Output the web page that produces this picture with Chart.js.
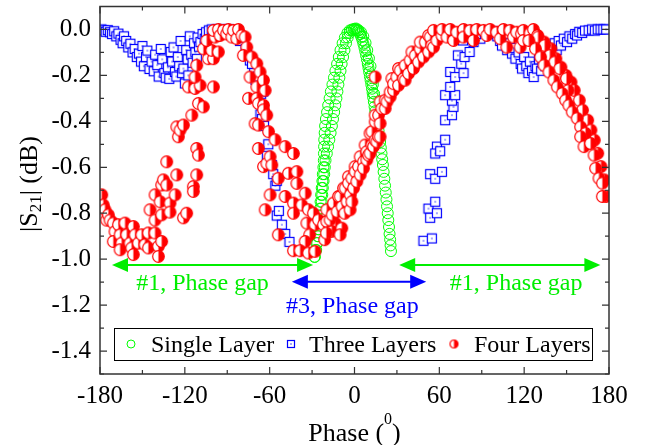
<!DOCTYPE html>
<html>
<head>
<meta charset="utf-8">
<script src="https://cdn.jsdelivr.net/npm/chart.js@4.4.0/dist/chart.umd.min.js"></script>
<style>
  html, body { margin: 0; padding: 0; background: #fff; }
  canvas { display: block; }
</style>
</head>
<body>
<canvas id="s21Chart" width="651" height="445"></canvas>
<script>
// axis ticks
const xTicks = [-180, -120, -60, 0, 60, 120, 180];
const yTicks = [0, -0.2, -0.4, -0.6, -0.8, -1.0, -1.2, -1.4];

const seriesNames = ['Single Layer', 'Three Layers', 'Four Layers'];

// Single Layer: [phase (deg), |S21| (dB)]
const singleLayer = [
  [-28.4, -0.99], [-28.0, -0.99], [-27.5, -0.96], [-27.1, -0.96], [-26.9, -0.93], [-26.3, -0.93],
  [-26.2, -0.90], [-25.6, -0.90], [-25.7, -0.87], [-25.1, -0.87], [-25.2, -0.84], [-24.6, -0.84],
  [-24.8, -0.81], [-24.0, -0.81], [-24.4, -0.78], [-23.6, -0.78], [-24.0, -0.75], [-23.2, -0.75],
  [-23.6, -0.72], [-22.8, -0.72], [-23.2, -0.69], [-22.4, -0.69], [-22.7, -0.66], [-21.9, -0.66],
  [-22.4, -0.63], [-21.4, -0.63], [-22.0, -0.60], [-21.0, -0.60], [-21.7, -0.57], [-20.5, -0.57],
  [-21.6, -0.54], [-19.6, -0.54], [-21.5, -0.51], [-18.7, -0.51], [-21.4, -0.48], [-17.8, -0.48],
  [-21.1, -0.45], [-16.9, -0.45], [-20.8, -0.42], [-16.0, -0.42], [-20.2, -0.39], [-15.2, -0.39],
  [-19.4, -0.36], [-14.4, -0.36], [-18.6, -0.33], [-13.6, -0.33], [-17.6, -0.30], [-12.8, -0.30],
  [-16.7, -0.27], [-12.1, -0.27], [-15.6, -0.24], [-11.4, -0.24], [-14.5, -0.21], [-10.7, -0.21],
  [-13.5, -0.18], [-9.9, -0.18], [-12.3, -0.15], [-9.1, -0.15], [-11.1, -0.12], [-8.1, -0.12],
  [-9.9, -0.09], [-7.1, -0.09], [-8.4, -0.06], [-6.0, -0.06], [-6.8, -0.035], [-4.8, -0.035],
  [-5.0, -0.015], [-3.4, -0.015], [-3.3, -0.004], [-1.9, -0.004], [-1.6, 0.0], [-0.4, 0.0],
  [0.0, 0.003], [0.8, 0.0], [1.2, 0.004], [1.6, -0.002], [2.4, -0.006], [2.8, -0.003], [3.2, -0.012],
  [4.0, -0.02], [4.6, -0.012], [4.8, -0.032], [5.6, -0.046], [6.2, -0.03], [6.3, -0.062], [7.0, -0.078],
  [7.6, -0.095], [7.8, -0.058], [8.2, -0.113], [8.8, -0.131], [9.0, -0.09], [9.4, -0.15], [9.9, -0.168],
  [10.2, -0.125], [10.4, -0.186], [10.9, -0.205], [11.3, -0.16], [11.4, -0.222], [11.9, -0.24],
  [12.2, -0.2], [12.4, -0.258], [12.8, -0.276], [13.0, -0.24], [13.2, -0.295], [13.7, -0.315],
  [13.9, -0.28], [14.2, -0.336], [14.7, -0.356], [15.2, -0.376], [15.8, -0.396], [16.4, -0.418],
  [17.0, -0.44], [17.5, -0.465], [18.1, -0.49], [18.6, -0.515], [19.1, -0.54], [19.6, -0.565],
  [20.1, -0.59], [20.6, -0.62], [21.1, -0.65], [21.6, -0.68], [22.1, -0.71], [22.6, -0.74],
  [23.0, -0.77], [23.5, -0.80], [23.9, -0.83], [24.4, -0.86], [24.8, -0.89], [25.2, -0.915],
  [25.5, -0.94], [25.8, -0.965]
];

// Three Layers
const threeLayers = [
  [-179.0, 0.0], [-177.5, -0.004], [-176.0, -0.01], [-174.5, -0.003], [-173.0, -0.012], [-171.5, -0.02],
  [-170.0, -0.008], [-168.5, -0.03], [-167.0, -0.018], [-165.5, -0.045], [-164.0, -0.06], [-163.0, -0.03],
  [-161.5, -0.05], [-160.0, -0.078], [-158.5, -0.062], [-157.0, -0.1], [-155.5, -0.085], [-154.0, -0.12],
  [-152.5, -0.105], [-151.0, -0.14], [-150.0, -0.072], [-149.0, -0.16], [-147.5, -0.12], [-146.5, -0.092],
  [-145.0, -0.172], [-143.5, -0.14], [-142.0, -0.182], [-141.0, -0.11], [-139.5, -0.155], [-138.5, -0.205],
  [-137.0, -0.085], [-136.0, -0.13], [-134.5, -0.19], [-133.5, -0.21], [-132.0, -0.165], [-131.0, -0.215],
  [-130.0, -0.098], [-129.0, -0.14], [-128.0, -0.078], [-127.0, -0.185], [-126.0, -0.205], [-125.0, -0.12],
  [-124.0, -0.16], [-123.0, -0.05], [-122.0, -0.19], [-121.0, -0.17], [-120.0, -0.235], [-119.0, -0.09],
  [-118.0, -0.13], [-117.5, -0.2], [-116.5, -0.03], [-115.5, -0.11], [-114.5, -0.145], [-113.5, -0.06],
  [-112.5, -0.1], [-111.5, -0.128], [-111.0, -0.035], [-110.0, -0.075], [-109.0, -0.055], [-107.5, -0.02],
  [-106.0, -0.04], [-105.0, -0.012], [-103.0, -0.004], [-101.0, 0.0], [-99.0, -0.008], [-97.0, 0.0],
  [-95.0, -0.004], [-93.0, 0.0], [-91.0, -0.008], [-89.0, 0.0], [-87.0, -0.004], [-85.0, -0.01],
  [-83.0, -0.02], [-81.0, -0.05], [-79.0, -0.035], [-77.0, -0.085], [-76.0, -0.11], [-74.0, -0.135],
  [-72.5, -0.15], [-71.0, -0.19], [-70.0, -0.22], [-68.5, -0.205], [-67.0, -0.25], [-66.0, -0.28],
  [-64.5, -0.27], [-66.5, -0.37], [-65.5, -0.39], [-64.0, -0.42], [-62.0, -0.55], [-61.0, -0.5],
  [-58.5, -0.59], [-57.5, -0.63], [-56.0, -0.68], [-55.0, -0.66], [-55.0, -0.81], [-53.5, -0.79],
  [-51.4, -0.85], [-49.0, -0.89], [-46.0, -0.925],
  [48.8, -0.92], [54.7, -0.91], [52.3, -0.78], [53.5, -0.82], [57.1, -0.75], [58.3, -0.80],
  [53.5, -0.63], [57.1, -0.65], [61.8, -0.62], [58.3, -0.51], [57.1, -0.54], [60.6, -0.53],
  [64.1, -0.48], [64.1, -0.395], [68.9, -0.373], [70.0, -0.337], [68.9, -0.31], [64.1, -0.286],
  [71.2, -0.286], [67.7, -0.25], [67.7, -0.185], [71.2, -0.207], [77.1, -0.19], [75.5, -0.149],
  [73.1, -0.113], [77.8, -0.12], [81.4, -0.098], [76.7, -0.048], [84.2, -0.055], [89.0, -0.04],
  [86.0, -0.02], [92.0, -0.01], [95.0, -0.02], [98.0, -0.008], [101.0, -0.03], [103.0, -0.05],
  [104.3, -0.07], [106.0, -0.04], [108.0, -0.09], [110.0, -0.06], [111.4, -0.105], [113.0, -0.08],
  [113.8, -0.127], [116.0, -0.1], [117.5, -0.15], [118.5, -0.17], [120.0, -0.12], [121.5, -0.16],
  [123.0, -0.19], [124.0, -0.14], [125.5, -0.18], [126.7, -0.207], [128.0, -0.16], [129.1, -0.17],
  [130.5, -0.13], [132.0, -0.18], [133.0, -0.145], [134.5, -0.1], [135.0, -0.156], [137.0, -0.12],
  [138.5, -0.08], [140.0, -0.11], [141.5, -0.06], [143.0, -0.09], [144.4, -0.05], [146.0, -0.07],
  [148.0, -0.04], [150.3, -0.055], [152.0, -0.03], [154.0, -0.04], [156.0, -0.02], [157.4, -0.026],
  [159.0, -0.01], [161.0, -0.015], [163.0, -0.005], [165.6, -0.004], [168.0, 0.0], [170.0, -0.005],
  [172.0, 0.0], [174.0, 0.0], [176.0, 0.0], [178.0, 0.0]
];

// Four Layers
const fourLayers = [
  [-178.8, -0.72], [-177.7, -0.764], [-176.5, -0.785], [-175.3, -0.83], [-174.1, -0.807], [-172.9, -0.83],
  [-170.6, -0.843], [-169.4, -0.88], [-170.6, -0.923], [-167.0, -0.85], [-165.8, -0.894], [-164.7, -0.93],
  [-165.8, -0.959], [-162.3, -0.843], [-161.1, -0.894], [-158.8, -0.93], [-157.6, -0.951], [-156.4, -0.858],
  [-156.4, -0.98], [-155.2, -0.894], [-152.9, -0.93], [-150.5, -0.894], [-148.2, -0.937], [-145.8, -0.886],
  [-145.8, -0.951], [-144.6, -0.785], [-141.1, -0.886], [-141.1, -0.83], [-141.1, -0.72], [-138.7, -0.944],
  [-138.7, -0.988], [-137.5, -0.75], [-136.4, -0.923], [-136.4, -0.807], [-136.4, -0.677], [-135.2, -0.655],
  [-132.8, -0.677], [-132.8, -0.576], [-130.5, -0.756], [-130.5, -0.795], [-126.9, -0.72], [-125.7, -0.633],
  [-124.6, -0.467], [-125.7, -0.424], [-123.4, -0.438], [-121.0, -0.416], [-121.0, -0.82], [-118.7, -0.80],
  [-115.1, -0.373], [-114.0, -0.684], [-114.0, -0.705], [-111.6, -0.633], [-111.6, -0.518], [-110.4, -0.547],
  [-110.4, -0.322], [-106.9, -0.337], [-117.5, -0.25], [-112.8, -0.257], [-109.2, -0.243], [-99.8, -0.25],
  [-112.8, -0.207], [-111.6, -0.156], [-103.4, -0.127], [-99.8, -0.127], [-106.9, -0.084], [-101.0, -0.091],
  [-96.3, -0.098], [-104.5, -0.048], [-98.6, -0.033], [-99.8, -0.004], [-96.3, 0.0], [-95.1, -0.026],
  [-92.7, -0.004], [-90.4, -0.019], [-89.2, 0.0], [-86.8, -0.033], [-85.7, -0.004], [-83.3, -0.04],
  [-82.1, 0.0], [-79.7, -0.026],
  [-77.4, -0.033], [-76.2, -0.077], [-78.6, -0.113], [-72.6, -0.12], [-69.1, -0.149], [-73.9, -0.207],
  [-66.8, -0.185], [-69.1, -0.25], [-64.4, -0.221], [-63.2, -0.265], [-75.0, -0.30], [-69.1, -0.30],
  [-68.0, -0.322], [-64.4, -0.33], [-64.4, -0.35], [-62.1, -0.373], [-70.3, -0.41], [-68.0, -0.416],
  [-60.8, -0.445], [-68.0, -0.518], [-64.4, -0.597], [-62.0, -0.583], [-59.7, -0.554], [-56.2, -0.48],
  [-49.1, -0.51], [-43.2, -0.54], [-58.5, -0.59], [-53.9, -0.648], [-46.7, -0.626], [-40.8, -0.619],
  [-40.8, -0.67], [-34.9, -0.713], [-59.7, -0.72], [-63.2, -0.785], [-49.1, -0.727], [-43.2, -0.756],
  [-37.3, -0.764], [-43.2, -0.80], [-32.6, -0.785], [-29.1, -0.80], [-33.7, -0.843], [-27.9, -0.85],
  [-53.9, -0.894], [-31.7, -0.894], [-34.9, -0.923], [-43.2, -0.963], [-38.5, -0.963], [-32.6, -0.973],
  [-27.9, -0.966],
  [-25.5, -0.829], [-22.0, -0.85], [-19.6, -0.836], [-13.7, -0.843], [-16.1, -0.879], [-9.0, -0.865],
  [-21.1, -0.915], [-10.2, -0.894], [-19.9, -0.886], [-17.3, -0.829], [-19.6, -0.785], [-15.8, -0.807],
  [-14.9, -0.756], [-12.3, -0.793], [-11.4, -0.727], [-10.2, -0.727], [-8.8, -0.771], [-7.8, -0.691],
  [-6.9, -0.80], [-6.6, -0.691], [-5.3, -0.749], [-4.3, -0.641], [-4.3, -0.669], [-3.1, -0.785],
  [-3.0, -0.72], [-1.9, -0.648], [-1.9, -0.75], [-0.7, -0.691], [0.4, -0.597], [0.4, -0.619],
  [1.6, -0.662], [2.8, -0.597], [4.0, -0.633], [4.0, -0.554], [6.3, -0.576], [6.3, -0.604],
  [7.5, -0.503], [8.7, -0.532], [8.7, -0.568], [9.9, -0.547], [11.0, -0.539], [11.0, -0.452],
  [12.3, -0.503], [12.3, -0.445], [13.4, -0.51], [14.6, -0.482], [14.6, -0.402], [14.6, -0.373],
  [15.8, -0.489], [16.9, -0.467], [17.0, -0.373], [18.1, -0.409], [18.1, -0.467], [18.1, -0.315],
  [19.3, -0.344], [21.7, -0.308], [21.7, -0.344], [22.9, -0.315], [25.2, -0.294], [25.2, -0.272],
  [26.4, -0.214], [27.6, -0.265], [27.6, -0.236], [29.9, -0.207], [31.1, -0.243], [31.1, -0.17],
  [32.3, -0.178], [34.6, -0.214], [35.8, -0.156], [35.8, -0.221], [38.2, -0.192], [39.3, -0.134],
  [40.6, -0.098], [41.7, -0.17], [42.9, -0.113], [45.2, -0.142], [46.4, -0.084], [46.5, -0.055],
  [48.8, -0.12], [50.0, -0.055], [52.4, -0.098], [52.4, -0.026], [53.5, -0.033], [54.7, -0.069],
  [55.9, -0.004], [55.9, -0.077], [58.3, -0.048], [61.8, -0.026], [14.6, -0.207],
  [61.9, 0.0], [65.4, -0.033], [67.7, 0.0], [70.1, -0.048], [72.4, -0.012], [77.1, 0.0],
  [77.1, -0.033], [81.8, -0.004], [84.2, -0.048], [86.5, 0.0], [91.2, -0.004], [93.6, -0.026],
  [95.9, 0.0], [100.6, -0.012], [103.0, -0.04], [105.3, 0.0], [107.7, -0.077], [110.0, -0.004],
  [112.4, -0.033], [114.7, -0.012], [117.1, -0.077], [118.0, -0.019], [119.4, -0.004], [119.4, -0.048],
  [124.2, -0.016], [126.5, 0.0],
  [129.5, -0.026], [134.2, -0.055], [138.9, -0.084], [142.4, -0.127], [146.0, -0.164], [149.5, -0.2],
  [153.1, -0.229], [155.4, -0.265], [159.0, -0.308], [161.3, -0.351], [164.9, -0.395], [167.2, -0.438],
  [169.6, -0.482], [172.0, -0.539], [174.3, -0.597], [176.7, -0.655], [177.9, -0.727], [129.8, -0.033],
  [134.5, -0.069], [138.1, -0.113], [141.6, -0.142], [145.2, -0.17], [149.9, -0.214], [151.1, -0.265],
  [123.3, -0.048], [128.0, -0.084], [131.6, -0.12], [134.0, -0.156], [137.5, -0.185], [141.0, -0.221],
  [143.4, -0.25], [146.9, -0.279], [149.3, -0.308], [151.6, -0.33], [154.0, -0.359], [157.5, -0.387],
  [159.9, -0.424], [163.4, -0.452], [159.9, -0.467], [162.3, -0.51], [167.0, -0.496], [169.4, -0.547],
  [170.5, -0.604], [172.9, -0.648], [175.3, -0.669], [175.3, -0.727]
];

// phase-gap arrows (data units)
const gapArrows = [
  { from: -171.5, to: -29.3, at: -1.025, color: '#00ee00', text: '#1, Phase gap', textX: -107.5, textY: -1.133 },
  { from: -44.3, to: 50.7, at: -1.098, color: '#0000ff', text: '#3, Phase gap', textX: -1.5, textY: -1.233 },
  { from: 31.6, to: 173.9, at: -1.025, color: '#00ee00', text: '#1, Phase gap', textX: 114.3, textY: -1.133 }
];

const SERIF = '"Liberation Serif", "Times New Roman", serif';
const GREEN = '#00ff00';
const BLUE = '#0000ff';
const RED = '#ff0000';

// marker images
function squareMarker(side) {
  const s = Math.ceil(side + 3);
  const c = document.createElement('canvas');
  c.width = s; c.height = s;
  const g = c.getContext('2d');
  const o = (s - side) / 2;
  g.fillStyle = '#fff';
  g.fillRect(o, o, side, side);
  g.strokeStyle = BLUE;
  g.lineWidth = 1.2;
  g.strokeRect(o, o, side, side);
  g.fillStyle = BLUE;
  g.fillRect(s / 2 - 0.6, s / 2 - 0.6, 1.2, 1.2);
  return c;
}

function halfCircleMarker(r) {
  const s = Math.ceil(r * 2 + 3);
  const c = document.createElement('canvas');
  c.width = s; c.height = s;
  const g = c.getContext('2d');
  const m = s / 2;
  g.beginPath(); g.arc(m, m, r, 0, Math.PI * 2); g.fillStyle = '#fff'; g.fill();
  g.beginPath(); g.arc(m, m, r, -Math.PI / 2, Math.PI / 2); g.closePath();
  g.fillStyle = RED; g.fill();
  g.beginPath(); g.arc(m, m, r, 0, Math.PI * 2);
  g.strokeStyle = RED; g.lineWidth = 1.2; g.stroke();
  return c;
}

function drawRuns(ctx, runs, cx, baseY) {
  let total = 0;
  runs.forEach(r => {
    ctx.font = r.size + 'px ' + SERIF;
    r.w = ctx.measureText(r.text).width;
    total += r.w;
  });
  let x = cx - total / 2;
  runs.forEach(r => {
    ctx.font = r.size + 'px ' + SERIF;
    ctx.fillText(r.text, x, baseY + r.dy);
    x += r.w;
  });
}

const legendMarkers = [null, squareMarker(7), halfCircleMarker(4)];

const decorPlugin = {
  id: 'decor',
  afterDatasetsDraw(chart) {
    const { ctx, chartArea: a, scales: { x, y } } = chart;
    ctx.save();

    // frame
    ctx.strokeStyle = '#333';
    ctx.lineWidth = 1.5;
    ctx.strokeRect(a.left, a.top, a.right - a.left, a.bottom - a.top);

    // inward ticks, majors + minors
    ctx.lineWidth = 1.2;
    ctx.beginPath();
    xTicks.forEach((v, i) => {
      const px = x.getPixelForValue(v);
      ctx.moveTo(px, a.bottom); ctx.lineTo(px, a.bottom - 7);
      ctx.moveTo(px, a.top); ctx.lineTo(px, a.top + 7);
      if (i < xTicks.length - 1) {
        const pm = x.getPixelForValue((v + xTicks[i + 1]) / 2);
        ctx.moveTo(pm, a.bottom); ctx.lineTo(pm, a.bottom - 4);
        ctx.moveTo(pm, a.top); ctx.lineTo(pm, a.top + 4);
      }
    });
    yTicks.forEach(v => {
      const py = y.getPixelForValue(v);
      ctx.moveTo(a.left, py); ctx.lineTo(a.left + 7, py);
      ctx.moveTo(a.right, py); ctx.lineTo(a.right - 7, py);
      const pm = y.getPixelForValue(v - 0.1);
      ctx.moveTo(a.left, pm); ctx.lineTo(a.left + 4, pm);
      ctx.moveTo(a.right, pm); ctx.lineTo(a.right - 4, pm);
    });
    ctx.stroke();

    // phase gap arrows
    gapArrows.forEach(g => {
      const x1 = x.getPixelForValue(g.from);
      const x2 = x.getPixelForValue(g.to);
      const py = y.getPixelForValue(g.at);
      ctx.strokeStyle = g.color;
      ctx.fillStyle = g.color;
      ctx.lineWidth = 2;
      ctx.beginPath(); ctx.moveTo(x1 + 10, py); ctx.lineTo(x2 - 10, py); ctx.stroke();
      ctx.beginPath(); ctx.moveTo(x1, py); ctx.lineTo(x1 + 16, py - 7); ctx.lineTo(x1 + 16, py + 7); ctx.closePath(); ctx.fill();
      ctx.beginPath(); ctx.moveTo(x2, py); ctx.lineTo(x2 - 16, py - 7); ctx.lineTo(x2 - 16, py + 7); ctx.closePath(); ctx.fill();
      ctx.font = '24px ' + SERIF;
      ctx.textAlign = 'center';
      ctx.textBaseline = 'alphabetic';
      ctx.fillText(g.text, x.getPixelForValue(g.textX), y.getPixelForValue(g.textY));
    });
    ctx.restore();
  },
  afterDraw(chart) {
    const { ctx, chartArea: a } = chart;
    ctx.save();
    ctx.fillStyle = '#000';
    ctx.textAlign = 'left';
    ctx.textBaseline = 'alphabetic';

    // x title: Phase (0)
    drawRuns(ctx, [
      { text: 'Phase (', size: 26, dy: 0 },
      { text: '0', size: 16, dy: -17 },
      { text: ')', size: 26, dy: 0 }
    ], (a.left + a.right) / 2, 441);

    // y title: |S21| (dB)
    ctx.save();
    ctx.translate(36.5, 184);
    ctx.rotate(-Math.PI / 2);
    drawRuns(ctx, [
      { text: '|S', size: 26, dy: 0 },
      { text: '21', size: 17, dy: 4 },
      { text: '| (dB)', size: 26, dy: 0 }
    ], 0, 0);
    ctx.restore();

    // legend box
    ctx.strokeStyle = '#000';
    ctx.lineWidth = 1;
    ctx.strokeRect(114.5, 328.5, 478, 32);
    const items = [
      { mx: 131, tx: 151 },
      { mx: 291, tx: 309 },
      { mx: 454, tx: 474 }
    ];
    items.forEach((it, i) => {
      if (i === 0) {
        ctx.beginPath();
        ctx.arc(it.mx, 344, 4, 0, Math.PI * 2);
        ctx.strokeStyle = GREEN;
        ctx.lineWidth = 1;
        ctx.stroke();
      } else {
        const m = legendMarkers[i];
        ctx.drawImage(m, it.mx - m.width / 2, 344 - m.height / 2);
      }
      ctx.fillStyle = '#000';
      ctx.font = '24px ' + SERIF;
      ctx.fillText(seriesNames[i], it.tx, 352);
    });
    ctx.restore();
  }
};

const toPoints = arr => arr.map(([px, s]) => ({ x: px, y: s }));

new Chart(document.getElementById('s21Chart'), {
  type: 'scatter',
  data: {
    datasets: [
      {
        label: seriesNames[0],
        data: toPoints(singleLayer),
        pointStyle: 'circle',
        pointRadius: 5.5,
        borderColor: GREEN,
        backgroundColor: 'rgba(0,0,0,0)',
        borderWidth: 1,
        order: 3
      },
      {
        label: seriesNames[1],
        data: toPoints(threeLayers),
        pointStyle: squareMarker(9),
        order: 2
      },
      {
        label: seriesNames[2],
        data: toPoints(fourLayers),
        pointStyle: halfCircleMarker(5.8),
        order: 1
      }
    ]
  },
  options: {
    responsive: false,
    animation: false,
    devicePixelRatio: 1,
    layout: { padding: { left: 0, right: 42, top: 5, bottom: 0 } },
    plugins: {
      legend: { display: false },
      tooltip: { enabled: false }
    },
    scales: {
      x: {
        type: 'linear',
        min: -180,
        max: 180,
        afterBuildTicks: s => { s.ticks = xTicks.map(v => ({ value: v })); },
        afterFit: s => { s.height = 71; s.paddingLeft = 0; s.paddingRight = 0; },
        grid: { display: false, drawTicks: false },
        border: { display: false },
        ticks: {
          autoSkip: false,
          maxRotation: 0,
          padding: 7,
          color: '#000',
          font: { family: SERIF, size: 25 },
          callback: v => String(v)
        }
      },
      y: {
        type: 'linear',
        min: -1.5,
        max: 0.1,
        afterBuildTicks: s => { s.ticks = yTicks.map(v => ({ value: v })); },
        afterFit: s => { s.width = 100; s.paddingTop = 0; s.paddingBottom = 0; },
        grid: { display: false, drawTicks: false },
        border: { display: false },
        ticks: {
          autoSkip: false,
          padding: 9,
          color: '#000',
          font: { family: SERIF, size: 25 },
          callback: v => v.toFixed(1)
        }
      }
    }
  },
  plugins: [decorPlugin]
});
</script>
</body>
</html>
